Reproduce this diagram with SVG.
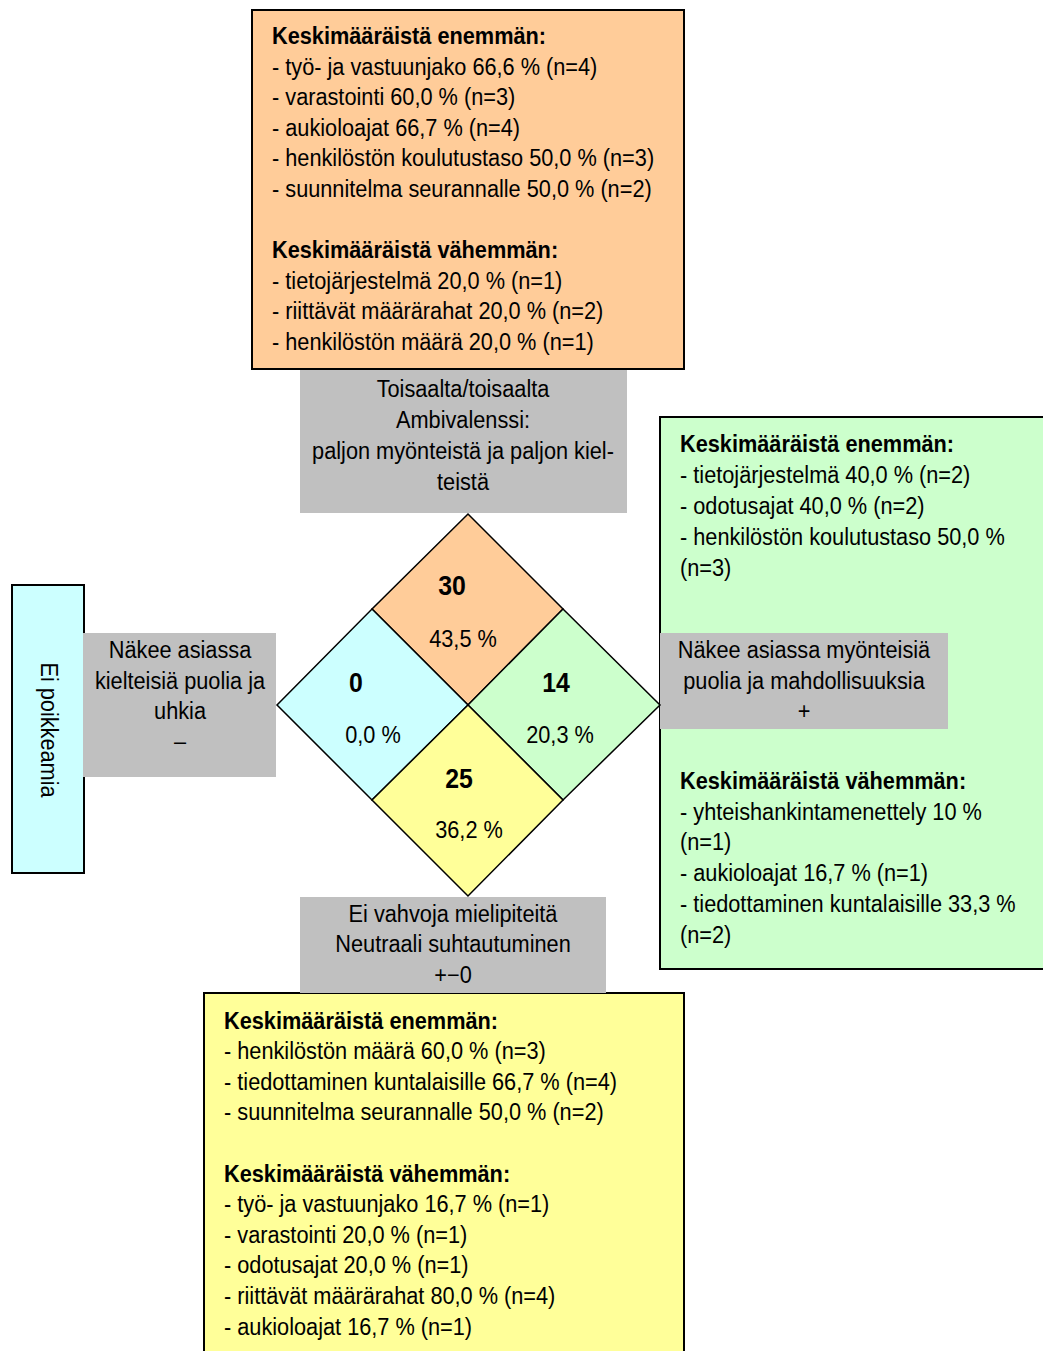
<svg xmlns="http://www.w3.org/2000/svg" width="1043" height="1351" viewBox="0 0 1043 1351">
  <style>
    text { font-family: "Liberation Sans", Arial, sans-serif; font-size: 23px; fill: #000; }
    .b { font-weight: bold; }
    .c { text-anchor: middle; }
    .num { font-weight: bold; font-size: 27px; text-anchor: middle; }
    .pct { text-anchor: middle; }
    .box { stroke: #000; stroke-width: 2; }
    .lbl { fill: #C0C0C0; }
    .q { stroke: #000; stroke-width: 1.5; stroke-linejoin: miter; }
  </style>

  <rect width="1043" height="1351" fill="#fff"/>

  <!-- Top: ambivalent group -->
  <g id="box-top">
    <rect class="box" x="252" y="10" width="432" height="359" fill="#FFCC99"/>
    <g transform="translate(272 0) scale(0.945 1)">
      <text x="0" y="44" class="b">Keskimääräistä enemmän:</text>
      <text x="0" y="75">- työ- ja vastuunjako 66,6 % (n=4)</text>
      <text x="0" y="105">- varastointi 60,0 % (n=3)</text>
      <text x="0" y="136">- aukioloajat 66,7 % (n=4)</text>
      <text x="0" y="166">- henkilöstön koulutustaso 50,0 % (n=3)</text>
      <text x="0" y="197">- suunnitelma seurannalle 50,0 % (n=2)</text>
      <text x="0" y="258" class="b">Keskimääräistä vähemmän:</text>
      <text x="0" y="289">- tietojärjestelmä 20,0 % (n=1)</text>
      <text x="0" y="319">- riittävät määrärahat 20,0 % (n=2)</text>
      <text x="0" y="350">- henkilöstön määrä 20,0 % (n=1)</text>
    </g>
  </g>

  <g id="label-top">
    <rect class="lbl" x="300" y="370" width="327" height="143"/>
    <g transform="translate(463 0) scale(0.945 1)">
      <text x="0" y="397" class="c">Toisaalta/toisaalta</text>
      <text x="0" y="428" class="c">Ambivalenssi:</text>
      <text x="0" y="459" class="c">paljon myönteistä ja paljon kiel-</text>
      <text x="0" y="490" class="c">teistä</text>
    </g>
  </g>

  <!-- Left: no deviations -->
  <g id="box-left">
    <rect class="box" x="12" y="585" width="72" height="288" fill="#CCFFFF"/>
    <text x="0" y="0" class="c" transform="translate(41 730) rotate(90) scale(0.945 1)">Ei poikkeamia</text>
  </g>

  <g id="label-left">
    <rect class="lbl" x="83" y="633" width="193" height="144"/>
    <g transform="translate(180 0) scale(0.945 1)">
      <text x="0" y="658" class="c">Näkee asiassa</text>
      <text x="0" y="689" class="c">kielteisiä puolia ja</text>
      <text x="0" y="719" class="c">uhkia</text>
      <text x="0" y="749" class="c">–</text>
    </g>
  </g>

  <!-- Right: positive group -->
  <g id="box-right">
    <rect class="box" x="660" y="417" width="390" height="552" fill="#CCFFCC"/>
    <g transform="translate(680 0) scale(0.945 1)">
      <text x="0" y="452" class="b">Keskimääräistä enemmän:</text>
      <text x="0" y="483">- tietojärjestelmä 40,0 % (n=2)</text>
      <text x="0" y="514">- odotusajat 40,0 % (n=2)</text>
      <text x="0" y="545">- henkilöstön koulutustaso 50,0 %</text>
      <text x="0" y="576">(n=3)</text>
      <text x="0" y="789" class="b">Keskimääräistä vähemmän:</text>
      <text x="0" y="820">- yhteishankintamenettely 10 %</text>
      <text x="0" y="850">(n=1)</text>
      <text x="0" y="881">- aukioloajat 16,7 % (n=1)</text>
      <text x="0" y="912">- tiedottaminen kuntalaisille 33,3 %</text>
      <text x="0" y="943">(n=2)</text>
    </g>
  </g>

  <g id="label-right">
    <rect class="lbl" x="660" y="633" width="288" height="96"/>
    <g transform="translate(804 0) scale(0.945 1)">
      <text x="0" y="658" class="c">Näkee asiassa myönteisiä</text>
      <text x="0" y="689" class="c">puolia ja mahdollisuuksia</text>
      <text x="0" y="719" class="c">+</text>
    </g>
  </g>

  <!-- Bottom: neutral group -->
  <g id="box-bottom">
    <rect class="box" x="204" y="993" width="480" height="370" fill="#FFFF99"/>
    <g transform="translate(224 0) scale(0.945 1)">
      <text x="0" y="1029" class="b">Keskimääräistä enemmän:</text>
      <text x="0" y="1059">- henkilöstön määrä 60,0 % (n=3)</text>
      <text x="0" y="1090">- tiedottaminen kuntalaisille 66,7 % (n=4)</text>
      <text x="0" y="1120">- suunnitelma seurannalle 50,0 % (n=2)</text>
      <text x="0" y="1182" class="b">Keskimääräistä vähemmän:</text>
      <text x="0" y="1212">- työ- ja vastuunjako 16,7 % (n=1)</text>
      <text x="0" y="1243">- varastointi 20,0 % (n=1)</text>
      <text x="0" y="1273">- odotusajat 20,0 % (n=1)</text>
      <text x="0" y="1304">- riittävät määrärahat 80,0 % (n=4)</text>
      <text x="0" y="1335">- aukioloajat 16,7 % (n=1)</text>
    </g>
  </g>

  <g id="label-bottom">
    <rect class="lbl" x="300" y="897" width="306" height="96"/>
    <g transform="translate(453 0) scale(0.945 1)">
      <text x="0" y="922" class="c">Ei vahvoja mielipiteitä</text>
      <text x="0" y="952" class="c">Neutraali suhtautuminen</text>
      <text x="0" y="983" class="c">+−0</text>
    </g>
  </g>

  <!-- Central diamond split into four quadrants -->
  <g id="quad-top">
    <polygon class="q" points="468,514 563,609 468,705 372,609" fill="#FFCC99"/>
    <text class="num" transform="translate(452 595) scale(0.92 1)">30</text>
    <text class="pct" transform="translate(463 647) scale(0.945 1)">43,5 %</text>
  </g>
  <g id="quad-left">
    <polygon class="q" points="372,609 468,705 372,800 277,705" fill="#CCFFFF"/>
    <text class="num" transform="translate(356 692) scale(0.92 1)">0</text>
    <text class="pct" transform="translate(373 743) scale(0.945 1)">0,0 %</text>
  </g>
  <g id="quad-right">
    <polygon class="q" points="563,609 660,705 563,800 468,705" fill="#CCFFCC"/>
    <text class="num" transform="translate(556 692) scale(0.92 1)">14</text>
    <text class="pct" transform="translate(560 743) scale(0.945 1)">20,3 %</text>
  </g>
  <g id="quad-bottom">
    <polygon class="q" points="468,705 563,800 468,896 372,800" fill="#FFFF99"/>
    <text class="num" transform="translate(459 788) scale(0.92 1)">25</text>
    <text class="pct" transform="translate(469 838) scale(0.945 1)">36,2 %</text>
  </g>

  <g id="connectors"></g>
</svg>
